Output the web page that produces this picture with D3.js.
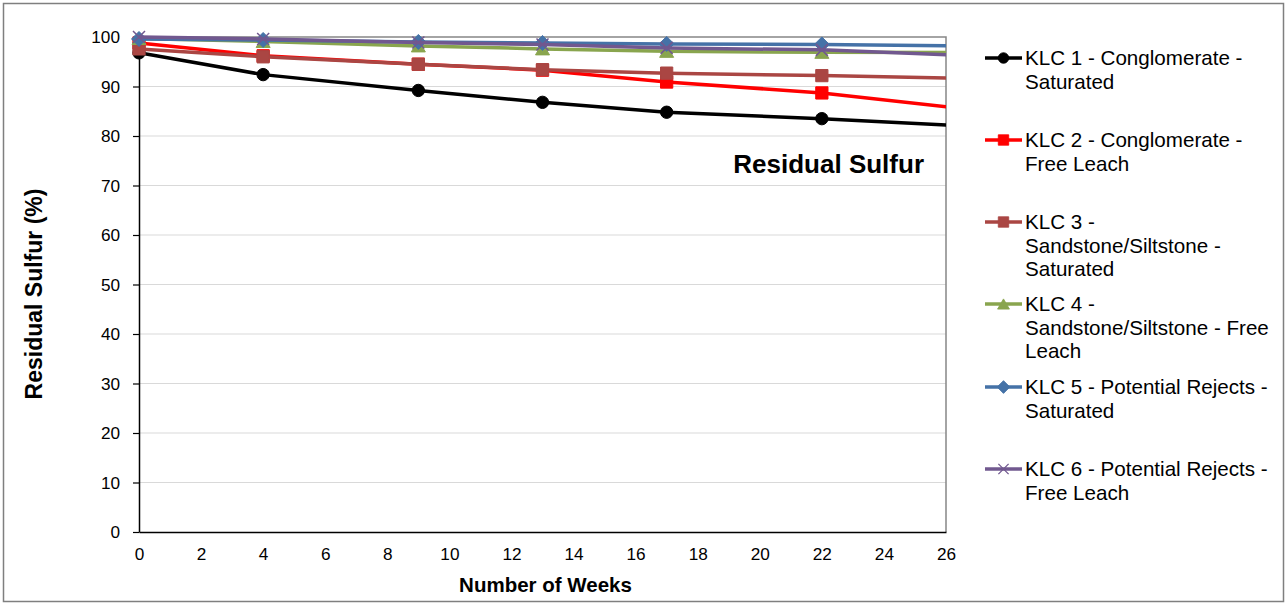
<!DOCTYPE html>
<html>
<head>
<meta charset="utf-8">
<script src="https://cdn.jsdelivr.net/npm/d3@7"></script>
<style>
  html, body { margin: 0; padding: 0; background: #fff; }
  svg { display: block; font-family: "Liberation Sans", Arial, sans-serif; }
</style>
</head>
<body>
<svg id="chart" width="1287" height="603"></svg>
<script>
// Sampling weeks (last sample lies beyond the 26-week axis and is clipped)
const weeks = [0, 4, 9, 13, 17, 22, 30];

// Residual sulfur (%) per test column
const klc1 = [96.8, 92.4, 89.2, 86.8, 84.8, 83.5, 80.9];
const klc2 = [98.8, 96.2, 94.5, 93.3, 90.9, 88.7, 83.1];
const klc3 = [97.6, 96.0, 94.5, 93.4, 92.7, 92.2, 91.2];
const klc4 = [99.7, 99.1, 98.2, 97.6, 97.1, 96.9, 96.8];
const klc5 = [99.6, 99.4, 99.0, 98.8, 98.6, 98.5, 98.0];
const klc6 = [100.0, 99.6, 98.9, 98.5, 97.8, 97.4, 95.4];

const seriesNames = [
  ["KLC 1 - Conglomerate -", "Saturated"],
  ["KLC 2 - Conglomerate -", "Free Leach"],
  ["KLC 3 -", "Sandstone/Siltstone -", "Saturated"],
  ["KLC 4 -", "Sandstone/Siltstone - Free", "Leach"],
  ["KLC 5 - Potential Rejects -", "Saturated"],
  ["KLC 6 - Potential Rejects -", "Free Leach"]
];

const xTicks = d3.range(0, 27, 2);
const yTicks = d3.range(0, 101, 10);

const seriesValues = [klc1, klc2, klc3, klc4, klc5, klc6];
const colors = ["#000000", "#FF0000", "#AA4643", "#89A54E", "#4572A7", "#71588F"];
const markerTypes = ["circle", "square", "square", "triangle", "diamond", "x"];

const svg = d3.select("#chart");
const W = 1287, H = 603;
const plot = { left: 139, right: 946, top: 37, bottom: 532 };

// outer frame
svg.append("rect")
  .attr("x", 3.5).attr("y", 3.5)
  .attr("width", W - 7).attr("height", H - 5)
  .attr("fill", "#fff").attr("stroke", "#7f7f7f").attr("stroke-width", 1.5);

const x = d3.scaleLinear().domain([0, 26]).range([plot.left, plot.right]);
const y = d3.scaleLinear().domain([0, 100]).range([plot.bottom, plot.top]);

// gridlines
svg.append("g")
  .selectAll("line")
  .data(yTicks.filter(d => d > 0 && d < 100))
  .join("line")
  .attr("x1", plot.left).attr("x2", plot.right)
  .attr("y1", d => y(d)).attr("y2", d => y(d))
  .attr("stroke", "#d9d9d9").attr("stroke-width", 1);

// plot-area border (top and right)
svg.append("path")
  .attr("d", `M${plot.left},${plot.top}H${plot.right}V${plot.bottom}`)
  .attr("fill", "none").attr("stroke", "#868686").attr("stroke-width", 1.5);

// axes
const yAxis = svg.append("g")
  .attr("transform", `translate(${plot.left},0)`)
  .call(d3.axisLeft(y).tickValues(yTicks).tickSize(6).tickPadding(13).tickSizeOuter(0));
const xAxis = svg.append("g")
  .attr("transform", `translate(0,${plot.bottom})`)
  .call(d3.axisBottom(x).tickValues(xTicks).tickSize(0).tickPadding(16).tickSizeOuter(0));

[yAxis, xAxis].forEach(g => {
  g.select(".domain").attr("stroke", "#000").attr("stroke-width", 1.5);
  g.selectAll(".tick line").attr("stroke", "#000").attr("stroke-width", 1.2);
  g.selectAll("text").attr("font-size", 17.2).attr("fill", "#000")
    .attr("font-family", "'Liberation Sans', Arial, sans-serif");
});

// axis titles
svg.append("text")
  .attr("x", 545.5).attr("y", 592)
  .attr("text-anchor", "middle")
  .attr("font-size", 20.5).attr("font-weight", "bold")
  .text("Number of Weeks");

svg.append("text")
  .attr("transform", "translate(42,294) rotate(-90)")
  .attr("text-anchor", "middle")
  .attr("font-size", 23).attr("font-weight", "bold")
  .text("Residual Sulfur (%)");

// in-plot label
svg.append("text")
  .attr("x", 924).attr("y", 173)
  .attr("text-anchor", "end")
  .attr("font-size", 26).attr("font-weight", "bold")
  .text("Residual Sulfur");

// marker shapes
function markerPath(type) {
  switch (type) {
    case "circle": return d3.symbol(d3.symbolCircle, 120)();
    case "square": return d3.symbol(d3.symbolSquare, 150)();
    case "diamond": return "M0,-7.5L7.5,0L0,7.5L-7.5,0Z";
    case "triangle": return "M0,-6L7,6L-7,6Z";
    case "x": return "M-6,-6L6,6M-6,6L6,-6";
  }
}
function drawMarker(g, type, color) {
  const p = g.append("path").attr("d", markerPath(type));
  if (type === "x") {
    p.attr("fill", "none").attr("stroke", color).attr("stroke-width", 1.5);
  } else {
    p.attr("fill", color).attr("stroke", color).attr("stroke-width", 1);
  }
  return p;
}

svg.append("clipPath").attr("id", "plotClip")
  .append("rect")
  .attr("x", plot.left).attr("y", plot.top - 10)
  .attr("width", plot.right - plot.left).attr("height", plot.bottom - plot.top + 10);

const line = d3.line().x(d => x(d[0])).y(d => y(d[1]));
const seriesLayer = svg.append("g");

seriesValues.forEach((vals, i) => {
  const pts = weeks.map((w, j) => [w, vals[j]]);
  const g = seriesLayer.append("g");
  g.append("path")
    .attr("clip-path", "url(#plotClip)")
    .attr("d", line(pts))
    .attr("fill", "none")
    .attr("stroke", colors[i])
    .attr("stroke-width", 3.5)
    .attr("stroke-linejoin", "round");
  pts.filter(p => p[0] <= 26).forEach(p => {
    const m = g.append("g").attr("transform", `translate(${x(p[0])},${y(p[1])})`);
    drawMarker(m, markerTypes[i], colors[i]);
  });
});

// legend
const legendTop = [65, 147, 229, 311, 394, 476];
const lineGap = 23.5;
const legend = svg.append("g");
seriesNames.forEach((lines, i) => {
  const yy = legendTop[i] - 7;
  legend.append("line")
    .attr("x1", 985).attr("x2", 1022)
    .attr("y1", yy).attr("y2", yy)
    .attr("stroke", colors[i]).attr("stroke-width", 3.5);
  const m = legend.append("g").attr("transform", `translate(1003.5,${yy})`);
  drawMarker(m, markerTypes[i], colors[i]).attr("transform", "scale(0.85)");
  const t = legend.append("text")
    .attr("x", 1025).attr("y", legendTop[i])
    .attr("font-size", 20.6).attr("fill", "#000");
  lines.forEach((s, k) => {
    t.append("tspan").attr("x", 1025).attr("y", legendTop[i] + k * lineGap).text(s);
  });
});
</script>
</body>
</html>
